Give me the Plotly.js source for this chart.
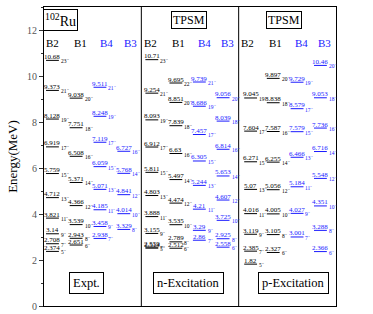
<!DOCTYPE html>
<html><head><meta charset="utf-8">
<script src="https://cdn.plot.ly/plotly-3.0.1.min.js"></script>
<style>html,body{margin:0;padding:0;background:#fff}#c{width:373px;height:314px}</style>
</head><body><div id="c"></div>
<script>
// ---------- data ----------
var panels = ["Expt.", "n-Excitation", "p-Excitation"];
var bands = ["B2", "B1", "B4", "B3"];

var expt_B2_E = [10.68, 9.373, 8.128, 6.919, 5.759, 4.712, 3.821, 3.14, 2.708, 2.374];
var expt_B2_J = ["23", "21", "19", "17", "15", "13", "11", "9", "7", "5"];
var expt_B1_E = [9.038, 7.751, 6.508, 5.371, 4.366, 3.539, 2.943, 2.651];
var expt_B1_J = ["20", "18", "16", "14", "12", "10", "8", "6"];
var expt_B4_E = [9.511, 8.248, 7.119, 6.059, 5.071, 4.185, 3.458, 2.938];
var expt_B4_J = ["21", "19", "17", "15", "13", "11", "9", "7"];
var expt_B3_E = [6.727, 5.768, 4.841, 4.014, 3.329];
var expt_B3_J = ["16", "14", "12", "10", "8"];

var nexc_B2_E = [10.71, 9.254, 8.093, 6.912, 5.811, 4.803, 3.888, 3.155, 2.559, 2.514];
var nexc_B2_J = ["23", "21", "19", "17", "15", "13", "11", "9", "7", "5"];
var nexc_B1_E = [9.695, 8.851, 7.839, 6.63, 5.497, 4.474, 3.535, 2.789, 2.512];
var nexc_B1_J = ["22", "20", "18", "16", "14", "12", "10", "8", "6"];
var nexc_B4_E = [9.739, 8.686, 7.457, 6.305, 5.244, 4.21, 3.29, 2.86];
var nexc_B4_J = ["21", "19", "17", "15", "13", "11", "9", "7"];
var nexc_B3_E = [9.056, 8.039, 6.814, 5.653, 4.607, 3.725, 2.925, 2.558];
var nexc_B3_J = ["20", "18", "16", "14", "12", "10", "8", "6"];

var pexc_B2_E = [9.045, 7.604, 6.271, 5.07, 4.016, 3.119, 2.385, 1.82];
var pexc_B2_J = ["19", "17", "15", "13", "11", "9", "7", "5"];
var pexc_B1_E = [9.897, 8.838, 7.587, 6.255, 5.056, 4.005, 3.105, 2.327];
var pexc_B1_J = ["20", "18", "16", "14", "12", "10", "8", "6"];
var pexc_B4_E = [9.729, 8.579, 7.579, 6.466, 5.184, 4.027, 3.001];
var pexc_B4_J = ["19", "17", "15", "13", "11", "9", "7"];
var pexc_B3_E = [10.46, 9.053, 7.736, 6.716, 5.548, 4.351, 3.288, 2.366];
var pexc_B3_J = ["20", "18", "16", "14", "12", "10", "8", "6"];

var yTicks = [0, 2, 4, 6, 8, 10, 12];

// ---------- layout helpers ----------
var sets = [
  [[expt_B2_E, expt_B2_J], [expt_B1_E, expt_B1_J], [expt_B4_E, expt_B4_J], [expt_B3_E, expt_B3_J]],
  [[nexc_B2_E, nexc_B2_J], [nexc_B1_E, nexc_B1_J], [nexc_B4_E, nexc_B4_J], [nexc_B3_E, nexc_B3_J]],
  [[pexc_B2_E, pexc_B2_J], [pexc_B1_E, pexc_B1_J], [pexc_B4_E, pexc_B4_J], [pexc_B3_E, pexc_B3_J]]
];
var colCenters = [
  [0.087, 0.33, 0.575, 0.82],
  [0.108, 0.355, 0.596, 0.84],
  [0.123, 0.355, 0.60, 0.84]
];
var headerCenters = [0.09, 0.38, 0.645, 0.885];
var bandColors = ["#000000", "#000000", "#1a1aff", "#1a1aff"];
var halfW = 0.066;
var serif = "'Liberation Serif', 'Times New Roman', serif";

var traces = [];
var ann = [];
for (var p = 0; p < 3; p++) {
  for (var b = 0; b < 4; b++) {
    var E = sets[p][b][0], J = sets[p][b][1];
    var cx = p + colCenters[p][b];
    var xs = [], ys = [];
    for (var i = 0; i < E.length; i++) {
      xs.push(cx - halfW, cx + halfW, null);
      ys.push(E[i], E[i], null);
      ann.push({x: cx, y: E[i], xref: "x", yref: "y", text: String(E[i]),
        showarrow: false, xanchor: "center", yanchor: "bottom", yshift: -2.5,
        font: {family: serif, size: 7, color: bandColors[b]}});
      ann.push({x: cx + halfW, y: E[i], xref: "x", yref: "y", text: J[i] + "\u207B",
        showarrow: false, xanchor: "left", yanchor: "middle", xshift: 0, yshift: -1,
        font: {family: serif, size: 5.5, color: bandColors[b]}});
    }
    traces.push({x: xs, y: ys, type: "scatter", mode: "lines", hoverinfo: "skip",
      line: {color: bandColors[b], width: 1}, showlegend: false});
    ann.push({x: p + headerCenters[b], y: 11.42, xref: "x", yref: "y", text: bands[b],
      showarrow: false, xanchor: "center", yanchor: "middle",
      font: {family: serif, size: 11, color: bandColors[b]}});
  }
}
ann.push({x: 0.165, y: 12.42, xref: "x", yref: "y", text: "<sup>102</sup>Ru", showarrow: false,
  font: {family: serif, size: 14, color: "#000"}, bordercolor: "#000", borderwidth: 1, borderpad: 1});
ann.push({x: 1.49, y: 12.42, xref: "x", yref: "y", text: "TPSM", showarrow: false,
  font: {family: serif, size: 12, color: "#000"}, bordercolor: "#000", borderwidth: 1, borderpad: 1});
ann.push({x: 2.47, y: 12.42, xref: "x", yref: "y", text: "TPSM", showarrow: false,
  font: {family: serif, size: 12, color: "#000"}, bordercolor: "#000", borderwidth: 1, borderpad: 1});
var botX = [0.44, 1.48, 2.565];
for (var q = 0; q < 3; q++) {
  ann.push({x: botX[q], y: 1.02, xref: "x", yref: "y", text: panels[q], showarrow: false,
    font: {family: serif, size: 12.5, color: "#000"}, bordercolor: "#000", borderwidth: 1, borderpad: 3});
}

var layout = {
  width: 373, height: 314,
  margin: {l: 44, r: 37, t: 7, b: 8},
  paper_bgcolor: "#fff", plot_bgcolor: "#fff",
  showlegend: false,
  xaxis: {range: [0, 3], showgrid: false, zeroline: false, showticklabels: false, ticks: "",
    showline: true, mirror: true, linecolor: "#000", linewidth: 1, fixedrange: true},
  yaxis: {range: [0, 13], showgrid: false, zeroline: false, tickvals: yTicks,
    ticks: "outside", ticklen: 4, tickcolor: "#333", tickwidth: 1,
    minor: {dtick: 1, ticks: "outside", ticklen: 2, tickcolor: "#333"},
    showline: true, mirror: true, linecolor: "#000", linewidth: 1,
    tickfont: {family: serif, size: 10, color: "#555"},
    title: {text: "Energy(MeV)", font: {family: serif, size: 13, color: "#000"}, standoff: 6}},
  shapes: [
    {type: "line", xref: "x", yref: "paper", x0: 1, x1: 1, y0: 0, y1: 1, line: {color: "#000", width: 1}},
    {type: "line", xref: "x", yref: "paper", x0: 2, x1: 2, y0: 0, y1: 1, line: {color: "#000", width: 1}}
  ],
  annotations: ann
};
Plotly.newPlot("c", traces, layout, {staticPlot: true, displayModeBar: false});
</script></body></html>
